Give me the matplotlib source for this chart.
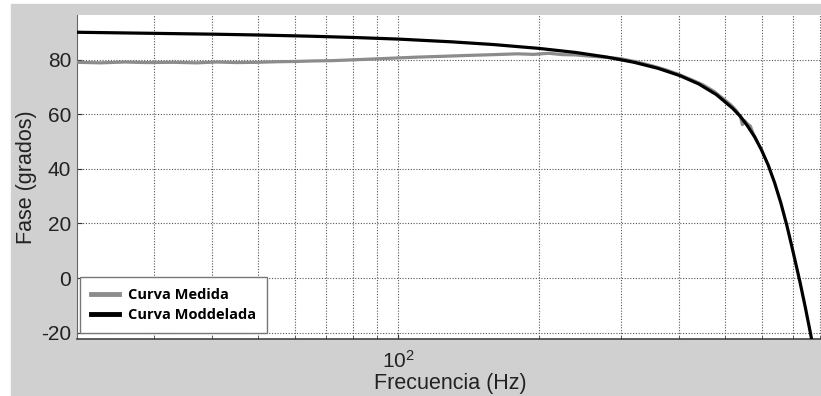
import matplotlib.pyplot as plt
from matplotlib.patches import Rectangle
from matplotlib.ticker import LogLocator, NullFormatter, FixedLocator

# curva modelada
f_mod = [20.5, 30, 40, 50, 65, 80, 100, 130, 160, 200, 240, 280, 320, 360, 400,
         440, 480, 520, 540, 560, 580, 600, 620, 640, 660, 680, 700, 725, 745, 765, 790]
fase_mod = [90.0, 89.6, 89.3, 89.0, 88.55, 88.1, 87.5, 86.5, 85.5, 84.1, 82.6, 80.9,
            79.0, 76.8, 74.2, 71.1, 67.2, 62.2, 59.3, 55.7, 51.7, 46.9, 41.4, 34.9,
            27.5, 19.2, 10.1, -1.3, -10.9, -20.8, -33.5]

# curva medida (ripple included)
f_med = [20.5, 23, 26, 29, 33, 37, 41, 45, 50, 55, 60, 66, 72, 80, 88, 100, 110,
         125, 140, 160, 180, 195, 210, 225, 240, 255, 270, 285, 300, 325, 350, 375,
         400, 425, 450, 475, 500, 515, 530, 541, 546, 552, 560, 568, 576, 585]
fase_med = [79.0, 78.8, 79.1, 78.9, 79.0, 78.8, 79.1, 78.9, 79.0, 79.2, 79.3, 79.5,
            79.6, 79.9, 80.2, 80.6, 80.9, 81.2, 81.5, 81.8, 82.1, 81.9, 82.3, 81.8,
            81.7, 81.3, 81.0, 80.7, 80.3, 79.1, 77.7, 76.2, 74.5, 72.6, 70.7, 68.3,
            65.3, 63.5, 61.3, 59.0, 56.2, 57.6, 56.4, 55.6, 52.8, 50.6]

plt.rcParams['font.family'] = ['Liberation Sans', 'DejaVu Sans']
plt.rcParams['axes.unicode_minus'] = False

fig = plt.figure(figsize=(8.21, 3.96), dpi=100, facecolor='white')
fig.patches.append(Rectangle((0.0134, 0), 1, 0.99, transform=fig.transFigure,
                             color='#d0d0d0', zorder=-1))
ax = fig.add_axes([0.0935, 0.144, 0.91, 0.818])

ax.semilogx(f_med, fase_med, color='#8c8c8c', lw=2.3, label='Curva Medida', zorder=3)
ax.semilogx(f_mod, fase_mod, color='black', lw=2.3, label='Curva Moddelada', zorder=4)

ax.set_xlim(20.5, 816)
ax.set_ylim(-22.3, 96.3)
ax.yaxis.set_major_locator(FixedLocator([-20, 0, 20, 40, 60, 80]))
ax.xaxis.set_minor_locator(LogLocator(base=10, subs=range(2, 10)))
ax.xaxis.set_minor_formatter(NullFormatter())

ax.grid(True, which='both', axis='x', color='#555555', ls=(0, (1, 1.5)), lw=0.8)
ax.grid(True, which='major', axis='y', color='#555555', ls=(0, (1, 1.5)), lw=0.8)
ax.set_axisbelow(True)

ax.tick_params(axis='both', which='both', direction='in', labelsize=15, colors='#333333',
               labelcolor='#222222')
ax.tick_params(axis='x', which='major', pad=8)
ax.tick_params(axis='y', which='major', pad=4)
for side in ['top', 'right']:
    ax.spines[side].set_visible(False)
ax.spines['left'].set_color('#666666')
ax.spines['bottom'].set_color('#444444')
ax.spines['bottom'].set_linewidth(1.2)

ax.set_xlabel('Frecuencia (Hz)', fontsize=15.5, color='#222222', labelpad=1)
ax.set_ylabel('Fase (grados)', fontsize=15.5, color='#222222', labelpad=3)

leg = ax.legend(loc='lower left', bbox_to_anchor=(0.005, 0.018),
                prop={'family': ['Open Sans', 'DejaVu Sans'], 'weight': 'bold', 'size': 10.5},
                handlelength=1.9, handletextpad=0.6, borderpad=0.75, labelspacing=0.45,
                fancybox=False, framealpha=1, edgecolor='#777777', borderaxespad=0)
leg.get_frame().set_linewidth(1.0)
for line in leg.get_lines():
    line.set_linewidth(3.5)

fig.savefig('out.png', dpi=100, facecolor=fig.get_facecolor())
